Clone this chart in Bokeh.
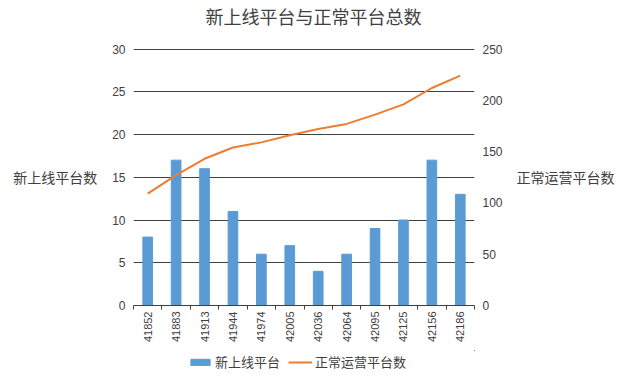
import math
from bokeh.plotting import figure
from bokeh.layouts import column
from bokeh.models import (Range1d, LinearAxis, FixedTicker, Legend, LegendItem, ColumnDataSource, Grid, Title)
from bokeh.embed import file_html
from bokeh.resources import INLINE

categories = ["41852", "41883", "41913", "41944", "41974", "42005",
              "42036", "42064", "42095", "42125", "42156", "42186"]
new_platforms = [8, 17, 16, 11, 6, 7, 4, 6, 9, 10, 17, 13]
normal_platforms = [109, 127, 143, 154, 159, 166, 172, 177, 186, 196, 212, 224]
left_ticks = [0, 5, 10, 15, 20, 25, 30]
right_ticks = [0, 50, 100, 150, 200, 250]

title_text = "新上线平台与正常平台总数"
left_title = "新上线平台数"
right_title = "正常运营平台数"
legend_labels = ["新上线平台", "正常运营平台数"]

CJK = "Noto Sans CJK SC"
NUM = "Liberation Sans"
TXT = "#404040"
BAR_COLOR = "#5B9BD5"
LINE_COLOR = "#ED7D31"

xpos = [i + 0.5 for i in range(len(categories))]
src = ColumnDataSource(dict(x=xpos, bar=new_platforms, line=normal_platforms, cat=categories))

p = figure(frame_width=341, frame_height=257, output_backend="svg", toolbar_location=None,
           x_range=Range1d(0, len(categories)), y_range=Range1d(0, 30.06),
           min_border_left=133, min_border_right=143, min_border_top=48, min_border_bottom=45,
           x_axis_type=None, y_axis_type=None)
p.extra_y_ranges = {"right": Range1d(0, 250.5)}
p.outline_line_color = None
p.background_fill_color = "white"
p.border_fill_color = "white"

# spacer between frame and title, then the title itself
p.add_layout(Title(text=" ", text_font_size="1px", standoff=17), "above")
p.add_layout(Title(text=title_text, align="left", offset=72, standoff=0,
                   text_font=CJK, text_font_size="18px", text_font_style="normal",
                   text_color=TXT), "above")

# axes
xaxis = LinearAxis(ticker=FixedTicker(ticks=xpos, minor_ticks=list(range(len(categories) + 1))),
                   major_label_overrides={x: c for x, c in zip(xpos, categories)})
xaxis.axis_label = None
xaxis.axis_label_standoff = 0
xaxis.axis_label_text_font_size = "0px"
xaxis.major_tick_out = 0
xaxis.major_tick_in = 0
xaxis.minor_tick_out = 4
xaxis.minor_tick_in = 0
xaxis.minor_tick_line_color = TXT
xaxis.axis_line_color = TXT
xaxis.major_label_orientation = math.pi / 2
xaxis.major_label_text_font = NUM
xaxis.major_label_text_font_size = "11px"
xaxis.major_label_text_color = TXT
xaxis.major_label_standoff = 2
p.add_layout(xaxis, "below")

yaxis = LinearAxis(ticker=FixedTicker(ticks=left_ticks), axis_label=left_title)
yaxis.axis_line_color = None
yaxis.major_tick_line_color = None
yaxis.minor_tick_line_color = None
yaxis.major_tick_out = 0
yaxis.major_tick_in = 0
yaxis.major_label_text_font = NUM
yaxis.major_label_text_font_size = "12px"
yaxis.major_label_text_color = TXT
yaxis.major_label_standoff = 8
yaxis.axis_label_orientation = "horizontal"
yaxis.axis_label_text_font = CJK
yaxis.axis_label_text_font_size = "14px"
yaxis.axis_label_text_font_style = "normal"
yaxis.axis_label_text_color = TXT
yaxis.axis_label_standoff = 12
p.add_layout(yaxis, "left")

raxis = LinearAxis(y_range_name="right", ticker=FixedTicker(ticks=right_ticks), axis_label=right_title)
raxis.axis_line_color = None
raxis.major_tick_line_color = None
raxis.minor_tick_line_color = None
raxis.major_tick_out = 0
raxis.major_tick_in = 0
raxis.major_label_text_font = NUM
raxis.major_label_text_font_size = "12px"
raxis.major_label_text_color = TXT
raxis.major_label_standoff = 8
raxis.axis_label_orientation = "horizontal"
raxis.axis_label_text_font = CJK
raxis.axis_label_text_font_size = "14px"
raxis.axis_label_text_font_style = "normal"
raxis.axis_label_text_color = TXT
raxis.axis_label_standoff = 11
p.add_layout(raxis, "right")

grid = Grid(dimension=1, ticker=yaxis.ticker, grid_line_color=TXT, grid_line_width=1)
p.add_layout(grid)

p.vbar(x="x", top="bar", width=0.34, source=src, color=BAR_COLOR)
p.line(x="x", y="line", source=src, y_range_name="right", line_color=LINE_COLOR, line_width=2)

# separate strip that carries the legend (below the chart); its view range shows no data,
# only the legend swatches are visible
lg = figure(width=617, height=25, output_backend="svg", toolbar_location=None,
            x_range=Range1d(-3, -2), y_range=Range1d(-3, -2),
            min_border=0, x_axis_type=None, y_axis_type=None)
lg.outline_line_color = None
lg.xgrid.visible = False
lg.ygrid.visible = False
lb = lg.vbar(x="x", top="bar", width=0.34, source=src, color=BAR_COLOR)
ll = lg.line(x="x", y="line", source=src, line_color=LINE_COLOR, line_width=2)

legend = Legend(items=[LegendItem(label=legend_labels[0], renderers=[lb]),
                       LegendItem(label=legend_labels[1], renderers=[ll])],
                location=(55, 4), orientation="horizontal")
legend.label_text_font = CJK
legend.label_text_font_size = "13px"
legend.label_text_color = TXT
legend.glyph_width = 24
legend.glyph_height = 8
legend.label_height = 14
legend.label_standoff = 3
legend.spacing = 8
legend.padding = 0
legend.margin = 0
legend.border_line_color = None
legend.background_fill_alpha = 0
lg.add_layout(legend, "center")

layout = column(p, lg, spacing=0)
open("out.html", "w").write(file_html(layout, INLINE))
